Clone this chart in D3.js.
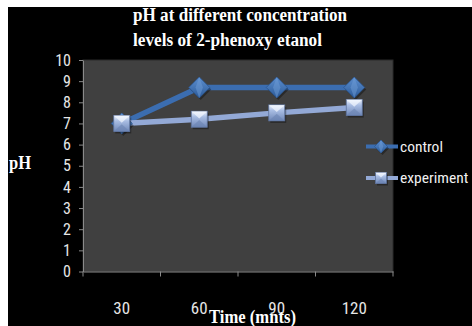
<!DOCTYPE html>
<html><head><meta charset="utf-8">
<script src="https://cdn.jsdelivr.net/npm/d3@7"></script>
<style>html,body{margin:0;padding:0;background:#fff;}svg{display:block;}</style>
</head><body>
<script>
const categories = ["30", "60", "90", "120"];
const controlValues = [7.0, 8.7, 8.7, 8.7];
const experimentValues = [7.0, 7.2, 7.5, 7.75];
const seriesNames = ["control", "experiment"];
const yTicks = [0,1,2,3,4,5,6,7,8,9,10];
const titleLines = ["pH at different concentration", "levels of 2-phenoxy etanol"];

const W = 472, H = 326;
const svg = d3.select("body").append("svg").attr("width", W).attr("height", H);
const defs = svg.append("defs");
const g1 = defs.append("linearGradient").attr("id","gDia").attr("x1",0).attr("y1",0).attr("x2",0).attr("y2",1);
g1.append("stop").attr("offset","0%").attr("stop-color","#5d8fd0");
g1.append("stop").attr("offset","100%").attr("stop-color","#2b5a98");
const g2 = defs.append("linearGradient").attr("id","gSq").attr("x1",0).attr("y1",0).attr("x2",0).attr("y2",1);
g2.append("stop").attr("offset","0%").attr("stop-color","#eef3fc");
g2.append("stop").attr("offset","35%").attr("stop-color","#a9bde3");
g2.append("stop").attr("offset","100%").attr("stop-color","#6f88b8");

svg.append("rect").attr("x",8).attr("y",7).attr("width",W-8).attr("height",H-7).attr("fill","#000");

const m = {left:83, top:60, right:393, bottom:271.5};
const x = d3.scaleBand().domain(categories).range([m.left, m.right]);
const y = d3.scaleLinear().domain([0,10]).range([m.bottom, m.top]);

svg.append("rect").attr("x",m.left).attr("y",m.top).attr("width",m.right-m.left).attr("height",m.bottom-m.top)
  .attr("fill","#404040").attr("stroke","#2a2a2a").attr("stroke-width",1);

const labelFont = "'Liberation Sans Narrow','Arial Narrow','Roboto Condensed',sans-serif";
const serifFont = "'Liberation Serif','Times New Roman',serif";

// y axis
const yAx = svg.append("g").attr("transform",`translate(${m.left},0)`)
  .call(d3.axisLeft(y).tickValues(yTicks).tickSize(4).tickPadding(8).tickSizeOuter(0));
yAx.select(".domain").attr("stroke","#8a8a8a");
yAx.selectAll(".tick line").attr("stroke","#8a8a8a");
yAx.selectAll("text").attr("fill","#e6e6e6").style("font-family",labelFont).style("font-size","16px");

// x axis
const xAx = svg.append("g").attr("transform",`translate(0,${m.bottom})`)
  .call(d3.axisBottom(x).tickSize(0).tickPadding(30));
xAx.select(".domain").attr("stroke","#8a8a8a");
xAx.selectAll("text").attr("fill","#e6e6e6").style("font-family",labelFont).style("font-size","17px");
// boundary ticks
const bounds = categories.map(c => x(c)).concat([m.right]);
svg.append("g").selectAll("line").data(bounds).join("line")
  .attr("x1",d=>d).attr("x2",d=>d).attr("y1",m.bottom).attr("y2",m.bottom+5).attr("stroke","#8a8a8a");

const cx = c => x(c) + x.bandwidth()/2;
const line = d3.line().x((d,i)=>cx(categories[i])).y(d=>y(d));

svg.append("path").datum(controlValues).attr("d",line).attr("fill","none")
  .attr("stroke","#3b6db0").attr("stroke-width",5.5).attr("stroke-linejoin","round");
svg.append("path").datum(experimentValues).attr("d",line).attr("fill","none")
  .attr("stroke","#93a9d6").attr("stroke-width",5.5).attr("stroke-linejoin","round");

function diamond(sel, s){
  sel.append("path").attr("d",`M1.5,${-s+2}L${s+1.5},2L1.5,${s+2}L${-s+1.5},2Z`).attr("fill","#000").attr("opacity",0.35);
  sel.append("path").attr("d",`M0,${-s}L${s},0L0,${s}L${-s},0Z`).attr("fill","url(#gDia)").attr("stroke","#2b568f").attr("stroke-width",0.8);
  sel.append("path").attr("d",`M0,${-s}L${s*0.35},0L0,${s}L${-s*0.35},0Z`).attr("fill","#6d9bd6").attr("opacity",0.5);
}
function square(sel, s){
  sel.append("rect").attr("x",-s+1.5).attr("y",-s+2).attr("width",2*s).attr("height",2*s).attr("fill","#000").attr("opacity",0.35);
  sel.append("rect").attr("x",-s).attr("y",-s).attr("width",2*s).attr("height",2*s).attr("fill","url(#gSq)").attr("stroke","#5c729c").attr("stroke-width",0.8);
  sel.append("path").attr("d",`M${-s},${-s}L0,${-s*0.1}L${s},${-s}Z`).attr("fill","#f4f8ff").attr("opacity",0.7);
  sel.append("path").attr("d",`M${-s},${s}L0,${s*0.1}L${s},${s}Z`).attr("fill","#6a83b3").attr("opacity",0.6);
}

svg.append("g").selectAll("g").data(controlValues).join("g")
  .attr("transform",(d,i)=>`translate(${cx(categories[i])},${y(d)})`).each(function(){diamond(d3.select(this),10.5);});
svg.append("g").selectAll("g").data(experimentValues).join("g")
  .attr("transform",(d,i)=>`translate(${cx(categories[i])},${y(d)})`).each(function(){square(d3.select(this),8);});

// legend
const leg = svg.append("g");
const legY = [146.5, 178];
seriesNames.forEach((n,i)=>{
  const gg = leg.append("g").attr("transform",`translate(0,${legY[i]})`);
  gg.append("line").attr("x1",366).attr("x2",398).attr("y1",0).attr("y2",0)
    .attr("stroke", i===0?"#3b6db0":"#93a9d6").attr("stroke-width",4);
  const mk = gg.append("g").attr("transform","translate(381,0)");
  if(i===0) diamond(mk,6.5); else square(mk,5.5);
  gg.append("text").attr("x",400).attr("y",5).text(n).attr("fill","#f0f0f0")
    .style("font-family",labelFont).style("font-size","15.5px");
});

// titles
svg.append("g").selectAll("text").data(titleLines).join("text")
  .attr("x",133).attr("y",(d,i)=>21+i*25).text(d=>d)
  .attr("fill","#fff").style("font-family",serifFont).style("font-weight","bold").style("font-size","18px")
  .attr("textLength",(d,i)=>i===0?214:189).attr("lengthAdjust","spacingAndGlyphs");

svg.append("text").attr("x",9).attr("y",169).text("pH").attr("fill","#fff")
  .style("font-family",serifFont).style("font-weight","bold").style("font-size","18px")
  .attr("textLength",22).attr("lengthAdjust","spacingAndGlyphs");

svg.append("text").attr("x",209).attr("y",323).text("Time (mnts)").attr("fill","#fff")
  .style("font-family",serifFont).style("font-weight","bold").style("font-size","19px")
  .attr("textLength",87).attr("lengthAdjust","spacingAndGlyphs");
</script>
</body></html>
